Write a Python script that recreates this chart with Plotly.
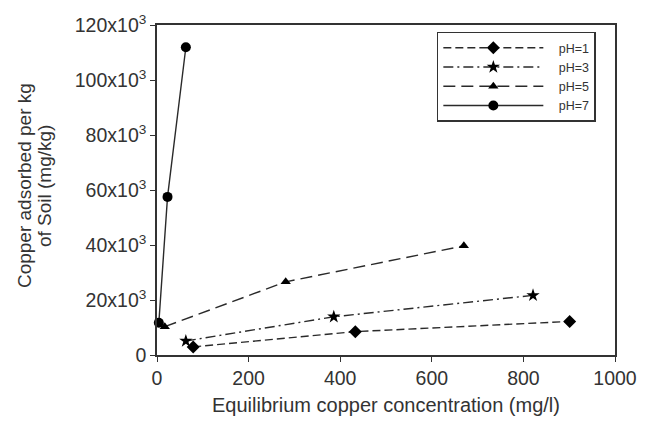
import plotly.graph_objects as go

# Data
ph1_x = [79, 433, 901]
ph1_y = [2950, 8500, 12200]
ph3_x = [63, 386, 821]
ph3_y = [5100, 13900, 21700]
ph5_x = [17, 281, 670]
ph5_y = [10300, 26600, 39700]
ph7_x = [4, 23, 63]
ph7_y = [11700, 57500, 111900]

y_tickvals = [0, 20000, 40000, 60000, 80000, 100000, 120000]
y_ticktext = ["0", "20x10<sup>3</sup>", "40x10<sup>3</sup>", "60x10<sup>3</sup>",
              "80x10<sup>3</sup>", "100x10<sup>3</sup>", "120x10<sup>3</sup>"]
x_tickvals = [0, 200, 400, 600, 800, 1000]
y_title_lines = ["Copper adsorbed per kg", "of Soil (mg/kg)"]
x_title = "Equilibrium copper concentration (mg/l)"

FONT = "Liberation Sans"
LC = "#2a2a2a"
PAD = "\u00a0" * 3

fig = go.Figure()
fig.add_trace(go.Scatter(x=ph1_x, y=ph1_y, name=PAD + "pH=1", mode="lines+markers",
                         line=dict(color=LC, width=1.4, dash="8px,4px"),
                         marker=dict(symbol="diamond", size=10, color="black"),
                         cliponaxis=False))
fig.add_trace(go.Scatter(x=ph3_x, y=ph3_y, name=PAD + "pH=3", mode="lines+markers",
                         line=dict(color=LC, width=1.4, dash="10px,4px,2px,4px"),
                         marker=dict(symbol="star", size=10, color="black"),
                         cliponaxis=False))
fig.add_trace(go.Scatter(x=ph5_x, y=ph5_y, name=PAD + "pH=5", mode="lines+markers",
                         line=dict(color=LC, width=1.4, dash="12px,6px"),
                         marker=dict(symbol="triangle-up", size=9, color="black"),
                         cliponaxis=False))
fig.add_trace(go.Scatter(x=ph7_x, y=ph7_y, name=PAD + "pH=7", mode="lines+markers",
                         line=dict(color=LC, width=1.4),
                         marker=dict(symbol="circle", size=10, color="black"),
                         cliponaxis=False))

L, R, T, B = 157, 40, 17, 79
PW = 655 - L - R
PH = 434 - T - B

annotations = []
for cx, txt in zip([24, 44], y_title_lines):
    annotations.append(dict(text=txt, textangle=-90, xref="paper", yref="paper",
                            x=(cx - L) / PW, y=(355 - 182) / PH,
                            xanchor="center", yanchor="middle", showarrow=False,
                            font=dict(size=19, color="#333")))

fig.update_layout(
    width=655, height=434,
    margin=dict(l=L, r=R, t=T, b=B),
    paper_bgcolor="white", plot_bgcolor="white",
    font=dict(family=FONT, size=20, color="#333"),
    showlegend=True,
    legend=dict(x=0.611, y=0.98, xanchor="left", yanchor="top",
                bordercolor="#333", borderwidth=1.5, bgcolor="white",
                font=dict(size=12.5, color="#333"), itemwidth=100,
                tracegroupgap=0),
    annotations=annotations,
)
fig.update_xaxes(range=[0, 1000], tickvals=x_tickvals, ticks="outside", ticklen=5,
                 tickcolor="#333", showline=True, linecolor="#333", linewidth=1.5,
                 mirror=True, showgrid=False, zeroline=False,
                 tickfont=dict(size=19.5),
                 title=dict(text=x_title, font=dict(size=20), standoff=10))
fig.update_yaxes(range=[0, 120000], tickvals=y_tickvals, ticktext=y_ticktext,
                 ticks="outside", ticklen=5, tickcolor="#333", showline=True,
                 linecolor="#333", linewidth=1.5, mirror=True, showgrid=False,
                 zeroline=False, tickfont=dict(size=19.5))

fig.write_html("out.html")
